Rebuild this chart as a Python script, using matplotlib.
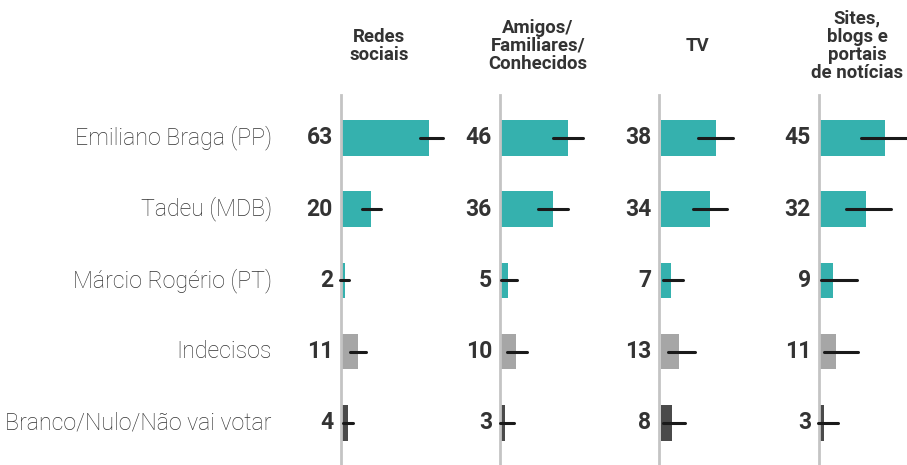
import matplotlib
matplotlib.use("Agg")
import matplotlib.pyplot as plt

plt.rcParams['font.family'] = ['Roboto', 'DejaVu Sans']

categories = ["Emiliano Braga (PP)", "Tadeu (MDB)", "Márcio Rogério (PT)",
              "Indecisos", "Branco/Nulo/Não vai votar"]
panels = ["Redes\nsociais", "Amigos/\nFamiliares/\nConhecidos", "TV",
          "Sites,\nblogs e\nportais\nde notícias"]
values = [
    [63, 20, 2, 11, 4],
    [46, 36, 5, 10, 3],
    [38, 34, 7, 13, 8],
    [45, 32, 9, 11, 3],
]
err_lo = [
    [53.5, 13.6, -1.4, 5.5, 0.5],
    [35.6, 25.7, 0.0, 4.3, -0.7],
    [26.0, 22.5, 1.8, 5.2, 1.8],
    [28.5, 17.8, 0.7, 2.8, -1.2],
]
err_hi = [
    [69.4, 26.8, 5.0, 16.4, 7.8],
    [56.8, 46.0, 11.2, 17.7, 9.0],
    [50.0, 46.0, 15.2, 23.7, 17.2],
    [60.0, 49.0, 25.5, 26.0, 12.7],
]
bar_colors = ["#35b1ae", "#35b1ae", "#35b1ae", "#a6a6a6", "#4a4a4a"]

W, H = 907, 465
fig = plt.figure(figsize=(W / 100, H / 100), dpi=100)

starts_px = [342, 501, 660.5, 820]
ax_w_px = 87
top_px, bot_px = 95, 465

for p, (x0, title) in enumerate(zip(starts_px, panels)):
    ax = fig.add_axes([x0 / W, (H - bot_px) / H, ax_w_px / W, (bot_px - top_px) / H])
    ax.set_xlim(0, 60)
    ax.set_ylim(4.59, -0.60)
    ax.axis('off')
    ys = list(range(len(categories)))
    ax.barh(ys, values[p], height=0.5, color=bar_colors, zorder=1)
    ax.axvline(-1.0, color="#c4c4c4", lw=2.0, zorder=3, clip_on=False)
    ax.hlines(ys, err_lo[p], err_hi[p], color="#1a1a1a", lw=2.2, zorder=4,
              clip_on=False, capstyle='round')
    for i, v in enumerate(values[p]):
        ax.annotate(str(v), xy=(0, i), xytext=(-6.5, 0), textcoords='offset points',
                    ha='right', va='center', fontsize=16.5, fontweight='bold',
                    color="#333333")
        if p == 0:
            ax.annotate(categories[i], xy=(0, i), xytext=(-50.5, 0),
                        textcoords='offset points', ha='right', va='center',
                        fontsize=16.7, fontweight='light', color="#333333")
    fig.text((x0 + 37) / W, (H - 46) / H, title, ha='center', va='center',
             fontsize=13.4, fontweight='bold', color="#333333", linespacing=1.02)

fig.savefig("out.png", dpi=100)
